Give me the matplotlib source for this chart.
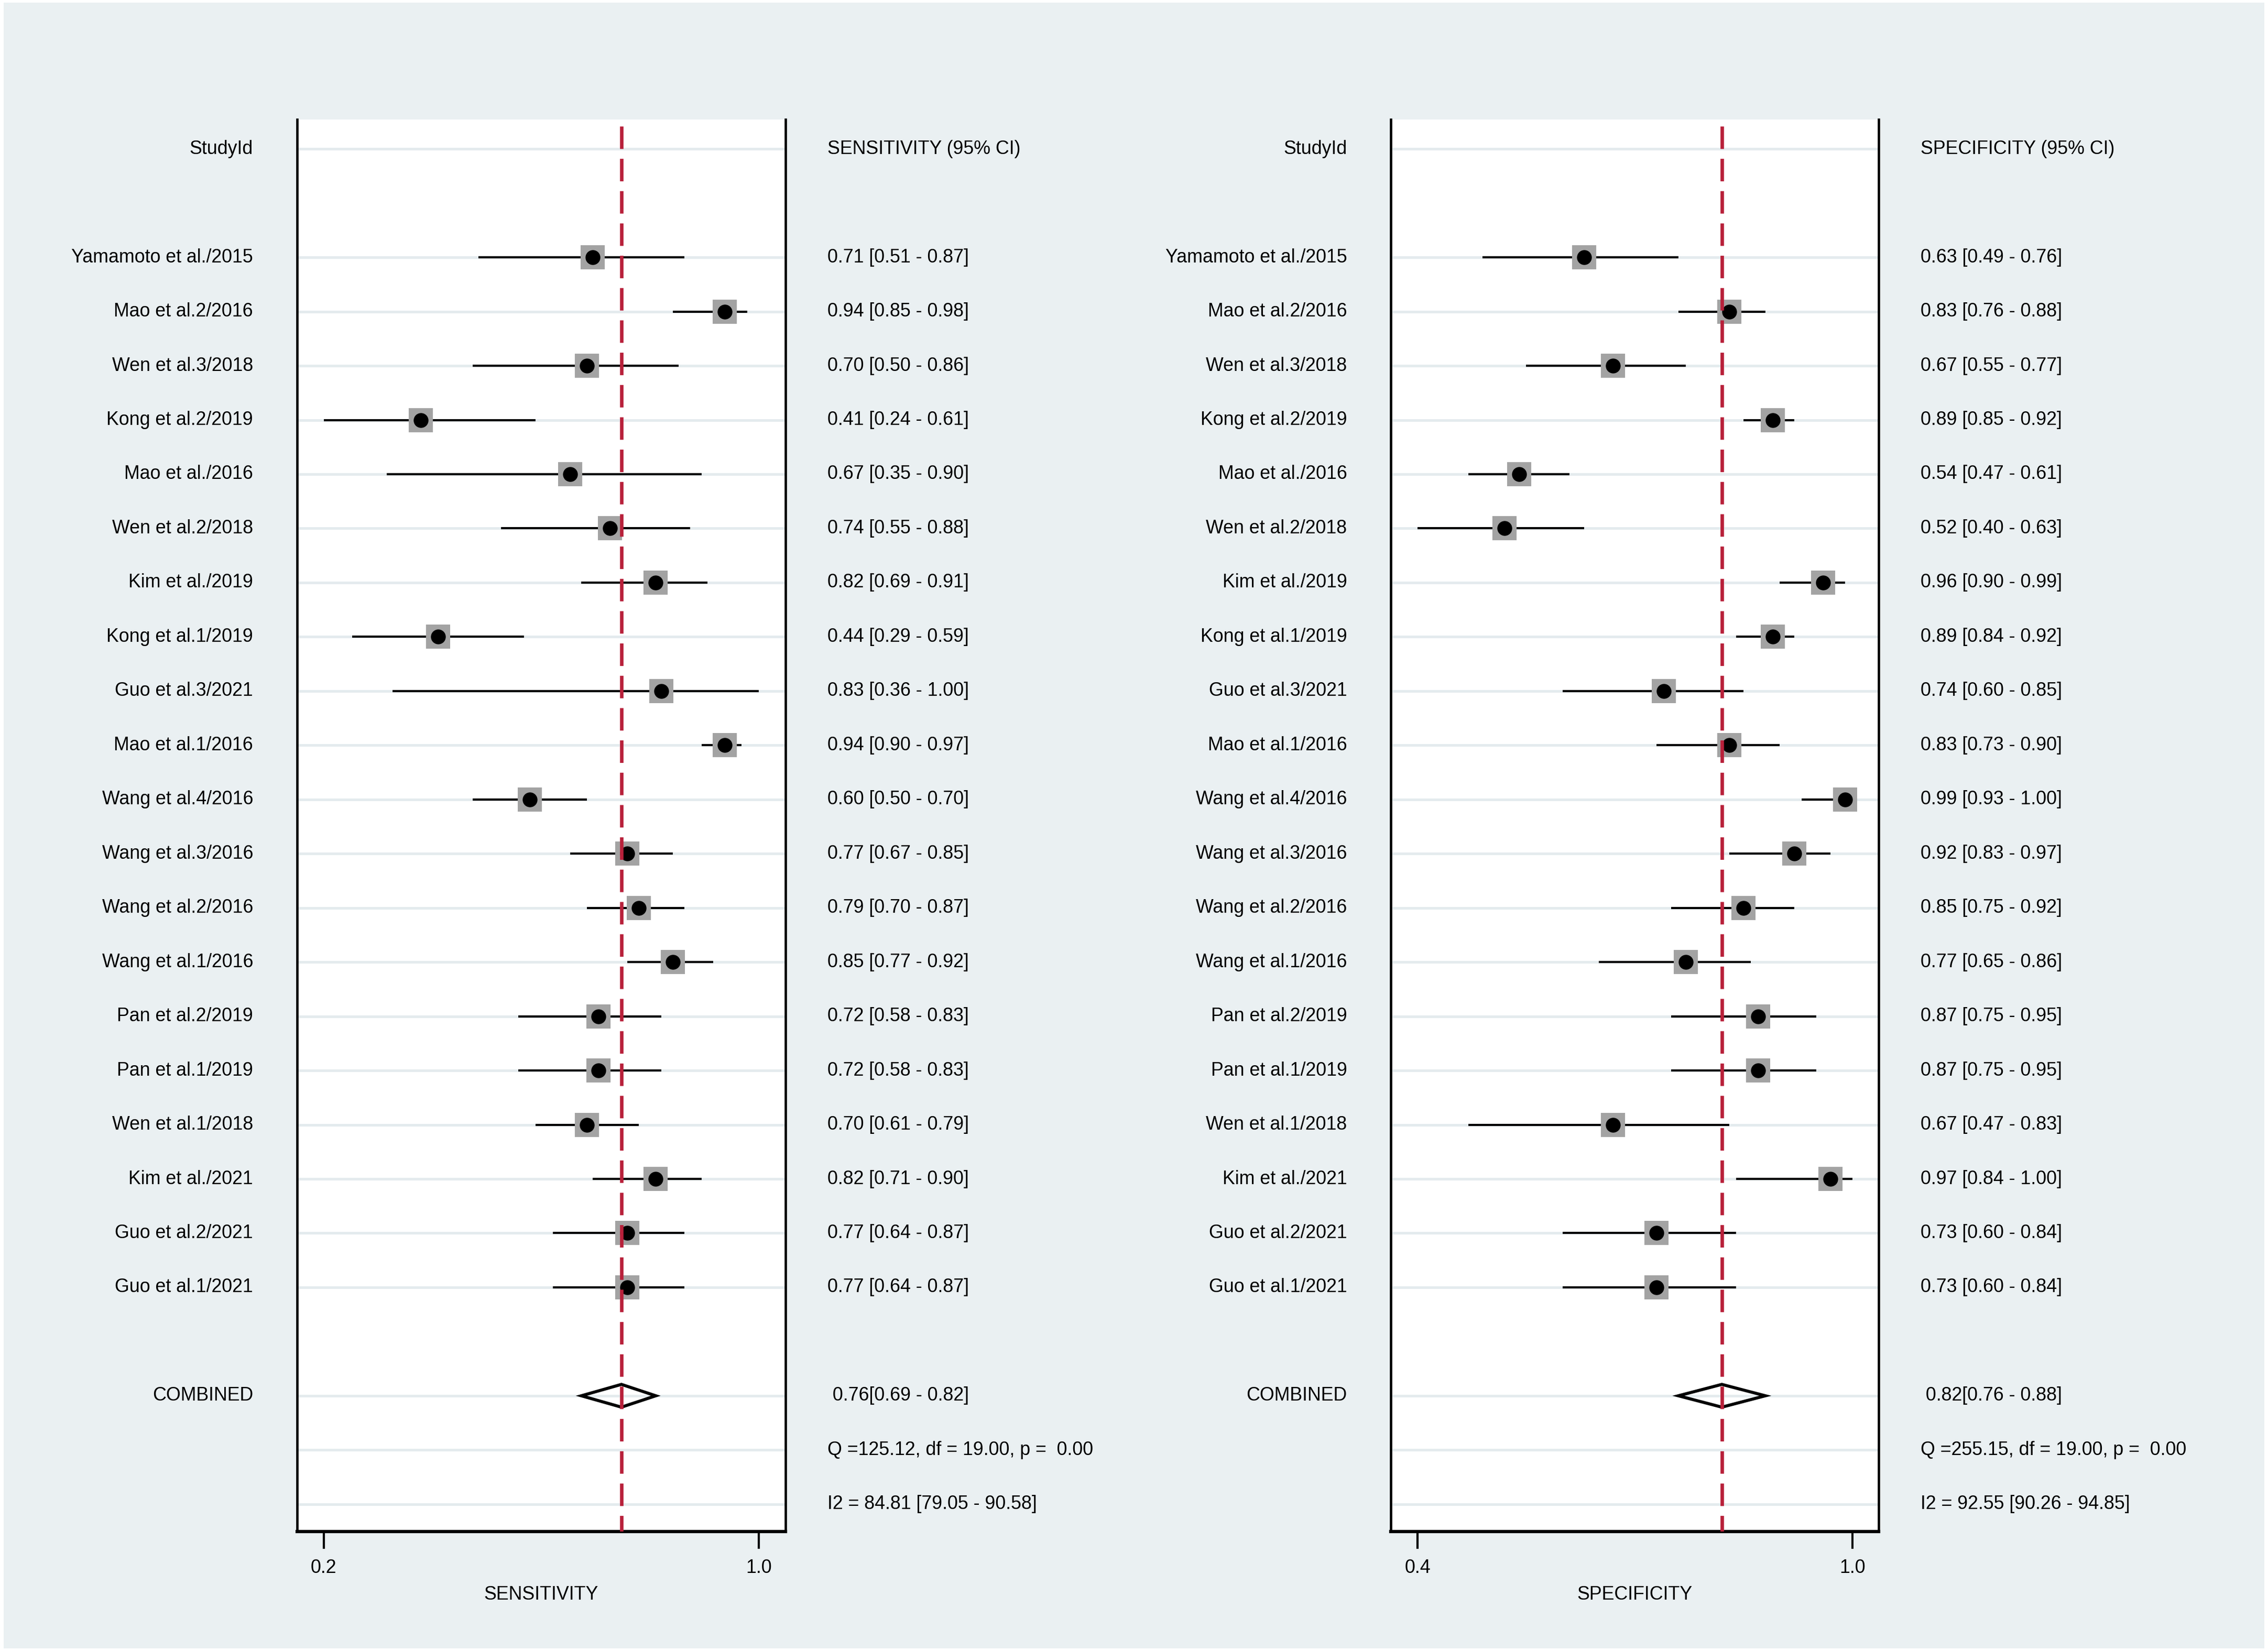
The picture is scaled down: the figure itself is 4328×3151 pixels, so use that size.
import matplotlib
matplotlib.use("Agg")
import matplotlib.pyplot as plt
from matplotlib.patches import Polygon, Rectangle

plt.rcParams['font.family'] = ['Liberation Sans', 'DejaVu Sans']
plt.rcParams['font.size'] = 8.6
plt.rcParams['lines.scale_dashes'] = False

# study data
studies = ["Yamamoto et al./2015", "Mao et al.2/2016", "Wen et al.3/2018", "Kong et al.2/2019",
           "Mao et al./2016", "Wen et al.2/2018", "Kim et al./2019", "Kong et al.1/2019",
           "Guo et al.3/2021", "Mao et al.1/2016", "Wang et al.4/2016", "Wang et al.3/2016",
           "Wang et al.2/2016", "Wang et al.1/2016", "Pan et al.2/2019", "Pan et al.1/2019",
           "Wen et al.1/2018", "Kim et al./2021", "Guo et al.2/2021", "Guo et al.1/2021"]

sens = [0.71, 0.94, 0.70, 0.41, 0.67, 0.74, 0.82, 0.44, 0.83, 0.94,
        0.60, 0.77, 0.79, 0.85, 0.72, 0.72, 0.70, 0.82, 0.77, 0.77]
sens_lo = [0.51, 0.85, 0.50, 0.24, 0.35, 0.55, 0.69, 0.29, 0.36, 0.90,
           0.50, 0.67, 0.70, 0.77, 0.58, 0.58, 0.61, 0.71, 0.64, 0.64]
sens_hi = [0.87, 0.98, 0.86, 0.61, 0.90, 0.88, 0.91, 0.59, 1.00, 0.97,
           0.70, 0.85, 0.87, 0.92, 0.83, 0.83, 0.79, 0.90, 0.87, 0.87]

spec = [0.63, 0.83, 0.67, 0.89, 0.54, 0.52, 0.96, 0.89, 0.74, 0.83,
        0.99, 0.92, 0.85, 0.77, 0.87, 0.87, 0.67, 0.97, 0.73, 0.73]
spec_lo = [0.49, 0.76, 0.55, 0.85, 0.47, 0.40, 0.90, 0.84, 0.60, 0.73,
           0.93, 0.83, 0.75, 0.65, 0.75, 0.75, 0.47, 0.84, 0.60, 0.60]
spec_hi = [0.76, 0.88, 0.77, 0.92, 0.61, 0.63, 0.99, 0.92, 0.85, 0.90,
           1.00, 0.97, 0.92, 0.86, 0.95, 0.95, 0.83, 1.00, 0.84, 0.84]

sens_pooled = [0.76, 0.69, 0.82]
spec_pooled = [0.82, 0.76, 0.88]
sens_q = "Q =125.12, df = 19.00, p =  0.00"
sens_i2 = "I2 = 84.81 [79.05 - 90.58]"
spec_q = "Q =255.15, df = 19.00, p =  0.00"
spec_i2 = "I2 = 92.55 [90.26 - 94.85]"

BG = '#eaf0f2'
GRID = '#e4ebee'

fig = plt.figure(figsize=(4328 / 300, 3151 / 300), dpi=300)
fig.patch.set_facecolor('white')
fig.add_artist(Rectangle((0.0016, 0.0016), 0.9968, 0.9968, transform=fig.transFigure,
                         facecolor=BG, edgecolor='none', zorder=-10))


def forest(ax, est, lo, hi, pooled, qtxt, i2txt, name):
    # rows: 0 header, 2..21 studies, 23 combined, 24 Q, 25 I2
    rows = list(range(2, 2 + len(est)))
    r_comb = rows[-1] + 2
    trans = ax.get_yaxis_transform()

    for r in [0] + rows + [r_comb, r_comb + 1, r_comb + 2]:
        ax.axhline(r, color=GRID, lw=1.2, zorder=1)

    ax.hlines(rows, lo, hi, color='black', lw=1.0, zorder=2)
    ax.plot(est, rows, 's', color='#a3a3a3', ms=11, mew=0, zorder=3)
    ax.plot(est, rows, 'o', color='black', ms=6.8, mew=0, zorder=4)

    p, plo, phi = pooled
    dia = Polygon([(plo, r_comb), (p, r_comb - 0.21), (phi, r_comb), (p, r_comb + 0.21)],
                  closed=True, facecolor='none', edgecolor='black', lw=1.4, zorder=5)
    ax.add_patch(dia)
    ax.axvline(p, color='#b8203a', lw=1.6, ls=(3, (10.3, 4.5)), zorder=6)

    # left labels and right estimates
    ax.text(-0.09, 0, "StudyId", transform=trans, ha='right', va='center')
    ax.text(1.086, 0, name + " (95% CI)", transform=trans, ha='left', va='center')
    for r, s, e, l, h in zip(rows, studies, est, lo, hi):
        ax.text(-0.09, r, s, transform=trans, ha='right', va='center')
        ax.text(1.086, r, f"{e:.2f} [{l:.2f} - {h:.2f}]", transform=trans, ha='left', va='center')
    ax.text(-0.09, r_comb, "COMBINED", transform=trans, ha='right', va='center')
    ax.text(1.086, r_comb, f" {p:.2f}[{plo:.2f} - {phi:.2f}]", transform=trans, ha='left', va='center')
    ax.text(1.086, r_comb + 1, qtxt, transform=trans, ha='left', va='center')
    ax.text(1.086, r_comb + 2, i2txt, transform=trans, ha='left', va='center')

    xmin = min(lo)
    pad = 0.061 * (1.0 - xmin)
    ax.set_xlim(xmin - pad, 1.0 + pad)
    ax.set_ylim(r_comb + 2.5, -0.545)
    ax.set_xticks([xmin, 1.0])
    ax.set_xticklabels([f"{xmin:.1f}", "1.0"])
    ax.tick_params(axis='x', direction='out', length=8, width=1.0, pad=4.5)
    ax.tick_params(axis='y', left=False, labelleft=False)
    ax.set_xlabel(name, labelpad=4)
    ax.set_facecolor('white')
    ax.spines['top'].set_visible(False)
    for side in ['left', 'right']:
        ax.spines[side].set_linewidth(1.1)
    ax.spines['bottom'].set_linewidth(1.5)


ax1 = fig.add_axes([0.1310, 0.0725, 0.2153, 0.8552])
ax2 = fig.add_axes([0.6133, 0.0725, 0.2151, 0.8552])
forest(ax1, sens, sens_lo, sens_hi, sens_pooled, sens_q, sens_i2, "SENSITIVITY")
forest(ax2, spec, spec_lo, spec_hi, spec_pooled, spec_q, spec_i2, "SPECIFICITY")

fig.savefig("out.png", dpi=300, facecolor=fig.get_facecolor())
